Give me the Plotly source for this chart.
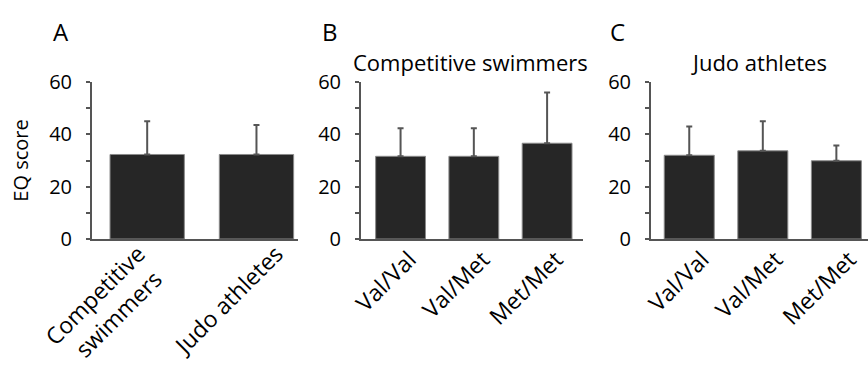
import plotly.graph_objects as go

# Panel A
groups_a = ["Competitive<br>swimmers\u00a0", "Judo athletes"]
mean_a = [32.3, 32.3]
sd_a = [12.7, 11.3]

# Panel B: Competitive swimmers by genotype
genotypes = ["Val/Val", "Val/Met", "Met/Met"]
mean_b = [31.6, 31.6, 36.6]
sd_b = [10.7, 10.7, 19.4]

# Panel C: Judo athletes by genotype
mean_c = [32.0, 33.7, 29.9]
sd_c = [11.0, 11.3, 5.8]

y_ticks = [0, 20, 40, 60]
panel_letters = ["A", "B", "C"]
panel_titles = ["", "Competitive swimmers", "Judo athletes"]

FONT = "Open Sans"
BAR = "#262626"
AX = "#555555"

fig = go.Figure()

def add_bars(x, y, sd, xa, ya):
    fig.add_trace(go.Bar(
        x=x, y=y, xaxis=xa, yaxis=ya, width=0.68,
        marker=dict(color=BAR, line=dict(color="#8a8a8a", width=1)),
        error_y=dict(type="data", array=sd, arrayminus=[0]*len(sd), symmetric=False,
                     color=AX, thickness=2, width=3),
        showlegend=False, hoverinfo="skip",
    ))

add_bars(groups_a, mean_a, sd_a, "x", "y")
add_bars(genotypes, mean_b, sd_b, "x2", "y2")
add_bars(genotypes, mean_c, sd_c, "x3", "y3")

# invisible helper trace carrying panel A's category labels on an overlaying axis
fig.add_trace(go.Scatter(
    x=list(range(len(groups_a))), y=mean_a, xaxis="x4", yaxis="y",
    mode="markers", marker=dict(opacity=0), showlegend=False, hoverinfo="skip",
))

W, H = 868, 365
T, B = 82, 126
doms = [(92, 298), (361, 583), (651, 868)]
ranges = [(-0.505, 1.38), (-0.54, 2.49), (-0.52, 2.43)]
shifts = [8, 9, 13]
LBL_STANDOFF = -4

def py(pix):
    return (H - B - pix) / (H - T - B)

ytickfont = dict(family=FONT, size=20, color="black")
xtickfont = dict(family=FONT, size=23, color="black")
layout = dict(
    width=W, height=H,
    margin=dict(l=0, r=0, t=T, b=B, autoexpand=False),
    paper_bgcolor="white", plot_bgcolor="white",
    annotations=[],
)
for i in range(3):
    sx = "" if i == 0 else str(i + 1)
    layout["xaxis" + sx] = dict(
        domain=[doms[i][0] / W, doms[i][1] / W],
        anchor="y" + sx, type="category", range=list(ranges[i]),
        showline=True, linecolor=AX, linewidth=2, ticks="",
        tickangle=-45, tickfont=xtickfont, showgrid=False, zeroline=False,
        automargin=False, ticklabelshift=shifts[i], ticklabelstandoff=LBL_STANDOFF,
    )
    layout["yaxis" + sx] = dict(
        anchor="x" + sx, range=[0, 60], tickvals=y_ticks,
        showline=True, linecolor=AX, linewidth=2,
        ticks="outside", ticklen=4, tickcolor=AX, tickwidth=2,
        minor=dict(ticks="outside", ticklen=4, dtick=10, tickcolor=AX, tickwidth=2),
        tickfont=ytickfont, showgrid=False, zeroline=False, ticklabelstandoff=10,
        automargin=False,
    )
layout["yaxis"]["title"] = dict(text="EQ score", font=dict(family=FONT, size=20, color="black"), standoff=15)

# Panel A labels are spread wider than the bars in the reference
layout["xaxis"]["showticklabels"] = False
layout["xaxis4"] = dict(
    domain=layout["xaxis"]["domain"], anchor="y", overlaying="x", side="bottom",
    type="linear", range=[-0.337, 1.156], tickmode="array",
    tickvals=list(range(len(groups_a))), ticktext=groups_a,
    showline=False, ticks="", showgrid=False, zeroline=False,
    tickangle=-45, tickfont=xtickfont, automargin=False, ticklabelstandoff=LBL_STANDOFF,
)

letter_x = [51, 320, 608]
for i in range(3):
    layout["annotations"].append(dict(
        text=panel_letters[i], x=letter_x[i] / W, y=py(31), xref="paper", yref="paper",
        xanchor="left", yanchor="middle", showarrow=False,
        font=dict(family=FONT, size=24, color="black")))
title_cx = [0, 470, 759]
for i in (1, 2):
    layout["annotations"].append(dict(
        text=panel_titles[i], x=title_cx[i] / W, y=py(62), xref="paper", yref="paper",
        xanchor="center", yanchor="middle", showarrow=False,
        font=dict(family=FONT, size=22, color="black")))

fig.update_layout(**layout)
fig.write_html("out.html", config={"displayModeBar": False},
               post_script="document.body.style.margin='0';")
